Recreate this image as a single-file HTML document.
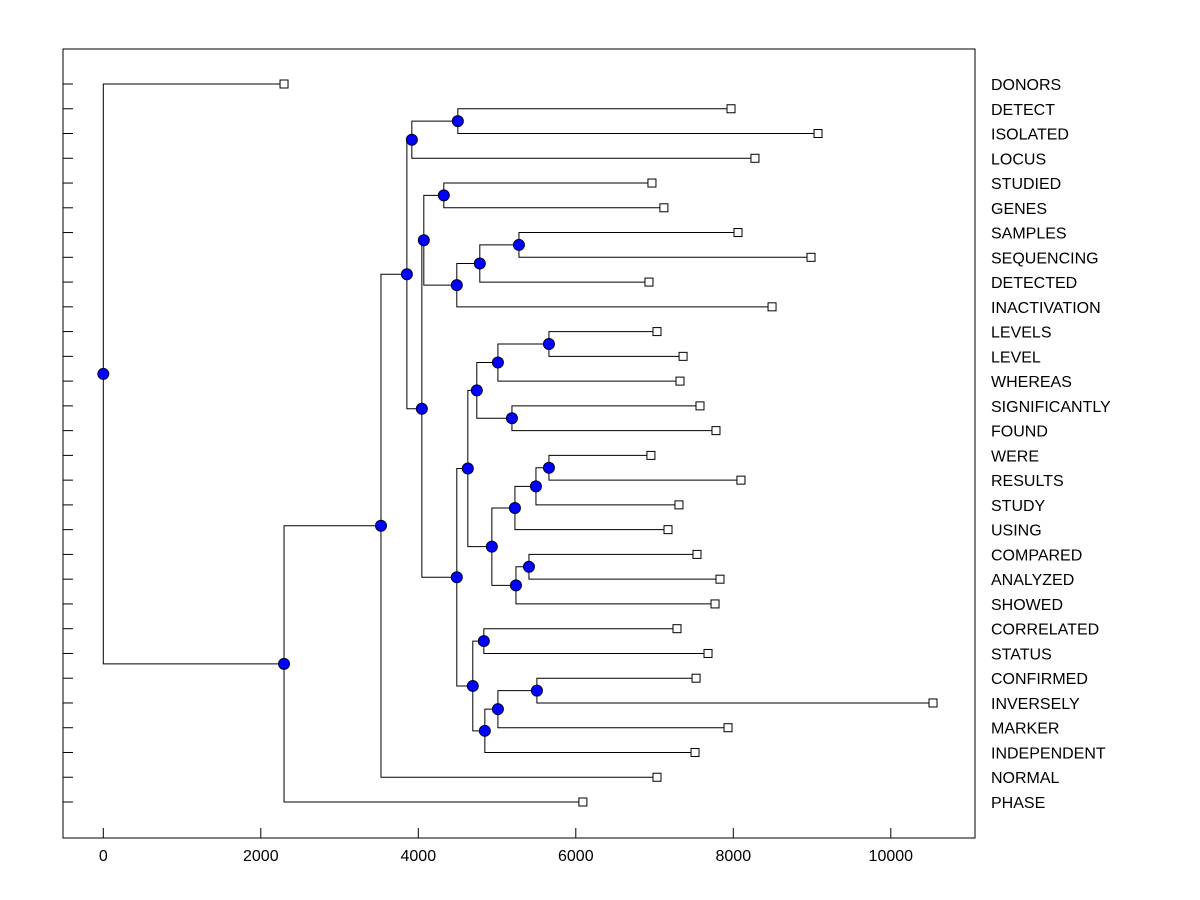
<!DOCTYPE html>
<html><head><meta charset="utf-8"><style>
body{margin:0;background:#fff}
svg{display:block;font-family:"Liberation Sans",Arial,sans-serif}
</style></head><body>
<svg id="chart" width="1200" height="900">
<rect x="63" y="49" width="912" height="789" fill="none" stroke="#000" stroke-width="1"/>
<g id="axis"></g>
<g id="links"></g>
<g id="marks"></g>
<g id="labels"></g>
</svg>
<script>
const leafNames=["DONORS","DETECT","ISOLATED","LOCUS","STUDIED","GENES","SAMPLES","SEQUENCING","DETECTED","INACTIVATION","LEVELS","LEVEL","WHEREAS","SIGNIFICANTLY","FOUND","WERE","RESULTS","STUDY","USING","COMPARED","ANALYZED","SHOWED","CORRELATED","STATUS","CONFIRMED","INVERSELY","MARKER","INDEPENDENT","NORMAL","PHASE"];
const leafValues=[2295,7971,9076,8275,6967,7119,8060,8987,6929,8492,7031,7362,7323,7577,7780,6954,8097,7310,7171,7539,7831,7768,7285,7679,7527,10536,7933,7514,7031,6090];
// merges: [childA, childB, height]; child = leaf name or "n"+index of earlier merge
const mergeLeft=["DETECT","n0","STUDIED","SAMPLES","n3","n4","n2","LEVELS","n7","SIGNIFICANTLY","n8","WERE","n11","n12","COMPARED","n14","n13","n10","CORRELATED","CONFIRMED","n19","n20","n18","n17","n6","n1","n25","n26","DONORS"];
const mergeRight=["ISOLATED","LOCUS","GENES","SEQUENCING","DETECTED","INACTIVATION","n5","LEVEL","WHEREAS","FOUND","n9","RESULTS","STUDY","USING","ANALYZED","SHOWED","n15","n16","STATUS","INVERSELY","MARKER","INDEPENDENT","n21","n22","n23","n24","NORMAL","PHASE","n27"];
const mergeHeights=[4502,3918,4324,5278,4781,4489,4070,5659,5011,5189,4743,5659,5494,5227,5405,5240,4934,4629,4832,5506,5011,4845,4692,4489,4045,3855,3526,2295,0];
const xTicks=[0,2000,4000,6000,8000,10000];

const NS="http://www.w3.org/2000/svg";
const X=v=>103.3+v*0.07875;
const Y=i=>84+i*(802-84)/29;
function mk(tag,attrs,parent){const e=document.createElementNS(NS,tag);for(const k in attrs)e.setAttribute(k,attrs[k]);parent.appendChild(e);return e;}
const axis=document.getElementById('axis'),links=document.getElementById('links'),marks=document.getElementById('marks'),labels=document.getElementById('labels');

xTicks.forEach(t=>{
  const l=mk('line',{x1:X(t),x2:X(t),y1:828,y2:838,stroke:'#000'},axis);
  
  
  const tx=mk('text',{x:X(t),y:861,'text-anchor':'middle','font-size':'16'},axis);
  tx.textContent=t;
  
  
});

const pos={};
leafNames.forEach((n,i)=>{
  pos[n]={x:X(leafValues[i]),y:Y(i)};
  const tk=mk('line',{x1:63,x2:73,y1:Y(i),y2:Y(i),stroke:'#000'},axis);
  
  
  const t=mk('text',{x:991,y:Y(i)+6,'font-size':'16'},labels);
  t.textContent=n;
  
  
});

const nodeMarks=[];
mergeLeft.forEach((a,k)=>{
  const b=mergeRight[k],h=mergeHeights[k];
  const pa=pos[a],pb=pos[b];
  const nx=X(h),ny=(pa.y+pb.y)/2;
  const d=`M${pa.x},${pa.y}H${nx}V${pb.y}H${pb.x}`;
  const p=mk('path',{d:d,fill:'none',stroke:'#000','stroke-width':'1'},links);
  
  
  pos['n'+k]={x:nx,y:ny};
  nodeMarks.push([nx,ny,k]);
});
nodeMarks.forEach(([x,y,k])=>{
  const c=mk('circle',{cx:x,cy:y,r:5.5,fill:'#0000ff',stroke:'#000033','stroke-width':'1'},marks);
  
  
});
leafNames.forEach(n=>{
  const p=pos[n];
  const r=mk('rect',{x:p.x-4,y:p.y-4,width:8,height:8,fill:'#fff',stroke:'#000'},marks);
  
  
});
</script>
</body></html>
